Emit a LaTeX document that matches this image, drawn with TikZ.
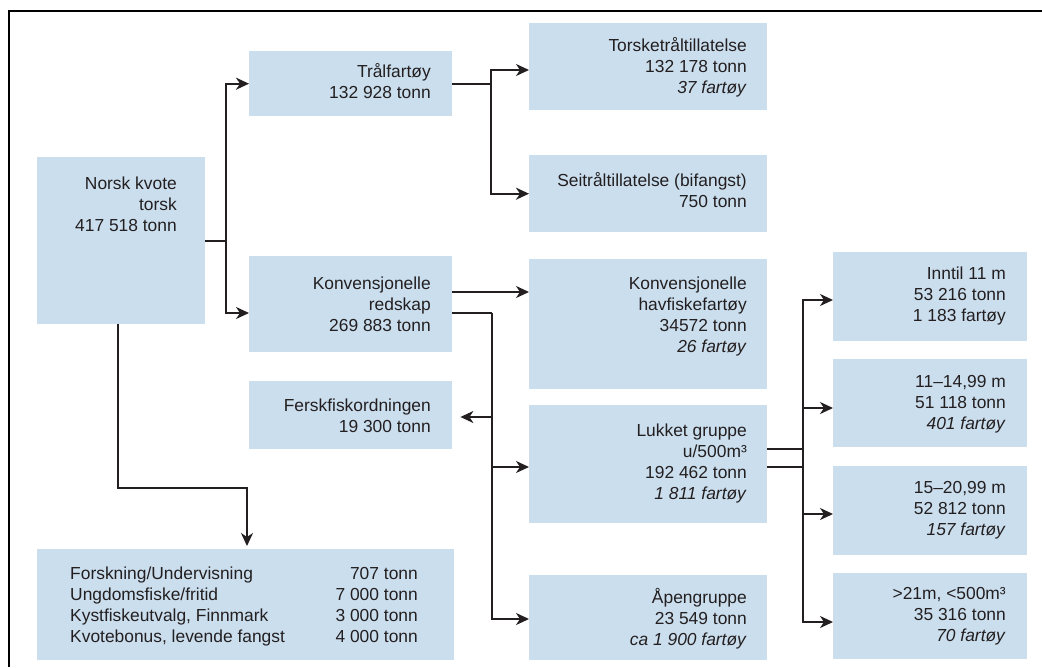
\documentclass[tikz,border=0pt]{standalone}
\usepackage{fontspec}
\setmainfont{Liberation Sans}
\usetikzlibrary{arrows.meta}
\definecolor{boxblue}{RGB}{203,222,238}
\definecolor{ink}{RGB}{35,31,32}
\begin{document}
\begin{tikzpicture}[x=1pt,y=-1pt,
  box/.style={fill=boxblue, draw=none, inner sep=0pt, anchor=north west},
  txt/.style={text=ink, font=\fontsize{17.4}{21}\selectfont, align=right, inner sep=0pt, anchor=east,
    execute at begin node=\strut, execute at end node=\strut},
  ltxt/.style={txt, align=left, anchor=west},
  conn/.style={draw=ink, line width=2pt},
  arr/.style={conn, -{Stealth[length=13pt,width=12pt,inset=4pt]}},
  frameline/.style={draw=black, line width=2pt}
]
\useasboundingbox (0,0) rectangle (1042,667);
\draw[frameline] (9,667) -- (9,11) -- (1042,11);

% boxes
\node[box, minimum width=168pt, minimum height=167pt] (norsk) at (37,157) {};
\node[box, minimum width=203pt, minimum height=65pt] (tral) at (249,51) {};
\node[box, minimum width=203pt, minimum height=96pt] (konv) at (249,256) {};
\node[box, minimum width=203pt, minimum height=68pt] (fersk) at (249,381) {};
\node[box, minimum width=238pt, minimum height=87pt] (torsk) at (529,23) {};
\node[box, minimum width=238pt, minimum height=77pt] (seit) at (529,155) {};
\node[box, minimum width=238pt, minimum height=130pt] (havf) at (529,259) {};
\node[box, minimum width=238pt, minimum height=118pt] (lukket) at (529,405) {};
\node[box, minimum width=238pt, minimum height=85pt] (apen) at (529,575) {};
\node[box, minimum width=194pt, minimum height=89pt] (r1) at (833,252) {};
\node[box, minimum width=194pt, minimum height=88pt] (r2) at (833,359) {};
\node[box, minimum width=194pt, minimum height=89pt] (r3) at (833,466) {};
\node[box, minimum width=194pt, minimum height=86pt] (r4) at (833,573) {};
\node[box, minimum width=417pt, minimum height=111pt] (bottom) at (37,549) {};

% texts
\node[txt] (norskT) at (177,207.5) {Norsk kvote\\torsk\\417 518 tonn};
\node[txt] (tralT) at (431,84) {Trålfartøy\\132 928 tonn};
\node[txt] (konvT) at (431,307.5) {Konvensjonelle\\redskap\\269 883 tonn};
\node[txt] (ferskT) at (431,419) {Ferskfiskordningen\\19 300 tonn};
\node[txt] (torskT) at (747,68.5) {Torsketråltillatelse\\132 178 tonn\\\textit{37 fartøy}};
\node[txt] (seitT) at (747,193) {Seitråltillatelse (bifangst)\\750 tonn};
\node[txt] (havfT) at (747,318) {Konvensjonelle\\havfiskefartøy\\34572 tonn\\\textit{26 fartøy}};
\node[txt] (lukketT) at (747,465) {Lukket gruppe\\u/500m³\\192 462 tonn\\\textit{1 811 fartøy}};
\node[txt] (apenT) at (747,620.5) {Åpengruppe\\23 549 tonn\\\textit{ca 1 900 fartøy}};
\node[txt] (r1T) at (1006,297.5) {Inntil 11 m\\53 216 tonn\\1 183 fartøy};
\node[txt] (r2T) at (1006,405.5) {11–14,99 m\\51 118 tonn\\\textit{401 fartøy}};
\node[txt] (r3T) at (1006,511.5) {15–20,99 m\\52 812 tonn\\\textit{157 fartøy}};
\node[txt] (r4T) at (1006,617.5) {>21m, <500m³\\35 316 tonn\\\textit{70 fartøy}};
\node[ltxt] (botL) at (70,608) {Forskning/Undervisning\\Ungdomsfiske/fritid\\Kystfiskeutvalg, Finnmark\\Kvotebonus, levende fangst};
\node[txt] (botR) at (418,608) {707 tonn\\7 000 tonn\\3 000 tonn\\4 000 tonn};

% helper levels
\coordinate (a70) at (0,70);
\coordinate (a292) at (0,292);
\coordinate (a300) at (0,300);
\coordinate (a313) at (0,313);
\coordinate (a408) at (0,408);
\coordinate (a417) at (0,417);
\coordinate (a467) at (0,467);
\coordinate (a514) at (0,514);
\coordinate (a619) at (0,619);
\coordinate (a622) at (0,622);

% Norsk -> Tral, Konv
\coordinate (j1) at (226,241);
\draw[conn] (norsk.east |- j1) -- (j1);
\draw[arr] (j1) |- (tral.west);
\draw[arr] (j1) |- (konv.west |- a313);

% Tral -> Torsk, Seit
\coordinate (j2) at (491,84);
\draw[conn] (tral.east |- j2) -- (j2);
\draw[arr] (j2) |- (torsk.west |- a70);
\draw[arr] (j2) |- (seit.west);

% Konv -> Havf
\draw[arr] (konv.east |- a292) -- (havf.west |- a292);

% Konv -> Fersk, Lukket, Apen
\coordinate (j3) at (492,313);
\draw[conn] (konv.east |- j3) -- (j3);
\draw[arr] (j3) |- (apen.west |- a619);
\draw[arr, shorten >=8pt] (j3 |- a417) -- (fersk.east |- a417);
\draw[arr] (j3 |- a467) -- (lukket.west |- a467);

% Lukket -> r1..r4
\coordinate (j4) at (803,449);
\draw[conn] (lukket.east |- j4) -- (j4);
\draw[conn] (lukket.east |- a467) -- (j4 |- a467);
\draw[arr] (j4) |- (r1.west |- a300);
\draw[arr] (j4) |- (r4.west |- a622);
\draw[arr] (j4 |- a408) -- (r2.west |- a408);
\draw[arr] (j4 |- a514) -- (r3.west |- a514);

% Norsk -> bottom
\coordinate (j5) at (118,488);
\coordinate (j6) at (247,488);
\draw[arr, shorten >=3pt] (norsk.south -| j5) -- (j5) -- (j6) -- (bottom.north -| j6);
\end{tikzpicture}
\end{document}
